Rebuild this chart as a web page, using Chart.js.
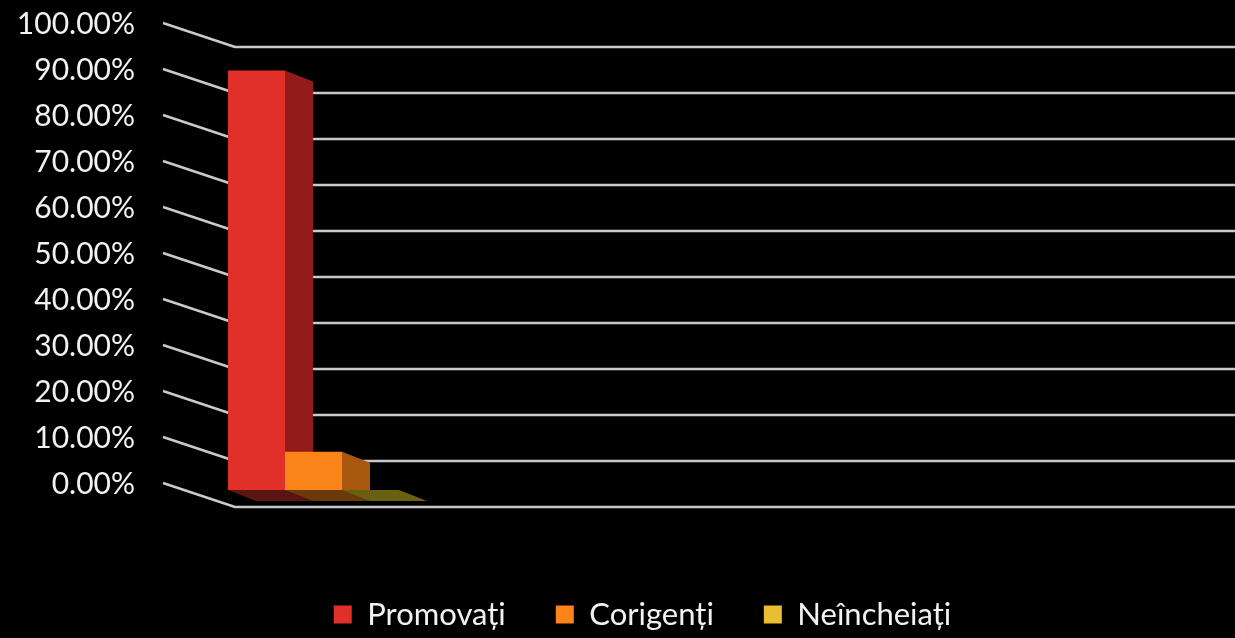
<!DOCTYPE html>
<html>
<head>
<meta charset="utf-8">
<script src="https://cdn.jsdelivr.net/npm/chart.js@4.4.1/dist/chart.umd.min.js"></script>
<style>
  html, body { margin: 0; padding: 0; background: #000; }
  #wrap { width: 1235px; height: 638px; position: relative; background: #000; }
</style>
</head>
<body>
<div id="wrap"><canvas id="c"></canvas></div>
<script>
// ---- data ----
const categories = ['Total'];
const seriesNames = ['Promovați', 'Corigenți', 'Neîncheiați'];
const promovati = [91.2];
const corigenti = [8.3];
const neincheiati = [0];
const yTickValues = [0, 10, 20, 30, 40, 50, 60, 70, 80, 90, 100];

// ---- styles ----
const frontColors = ['#e1302a', '#fb8419', '#e9be32'];
const sideColors = ['#931c1a', '#a9590f', '#8a7418'];
const bottomColors = ['#5a1512', '#6a3a0c', '#6a6012'];
const DEPTH_X = 28, DEPTH_Y = 11;           // bar depth
const WALL_BACK_DX = 45, WALL_BACK_DY = 17; // front plane -> back wall
const SIDE_DX = 72, SIDE_DY = 24;           // left wall depth
const GRID_COLOR = '#c9c9c9';

const threeD = {
  id: 'threeD',
  beforeDatasetsDraw(chart) {
    const ctx = chart.ctx;
    const y = chart.scales.y;
    const backLeft = chart.chartArea.left + WALL_BACK_DX;
    ctx.save();
    // walls / gridlines
    ctx.strokeStyle = GRID_COLOR;
    ctx.lineWidth = 2.5;
    ctx.lineJoin = 'round';
    y.ticks.forEach(t => {
      const by = y.getPixelForValue(t.value) + WALL_BACK_DY;
      ctx.beginPath();
      ctx.moveTo(backLeft - SIDE_DX, by - SIDE_DY);
      ctx.lineTo(backLeft, by);
      ctx.lineTo(chart.width, by);
      ctx.stroke();
    });
    // bottom + side faces of every bar (fronts are drawn afterwards by Chart.js)
    chart.data.datasets.forEach((ds, i) => {
      const meta = chart.getDatasetMeta(i);
      meta.data.forEach(bar => {
        const p = bar.getProps(['x', 'y', 'base', 'width'], true);
        const l = p.x - p.width / 2, r = p.x + p.width / 2;
        const top = Math.min(p.y, p.base), base = Math.max(p.y, p.base);
        ctx.fillStyle = bottomColors[i];
        ctx.beginPath();
        ctx.moveTo(l, base);
        ctx.lineTo(r, base);
        ctx.lineTo(r + DEPTH_X, base + DEPTH_Y);
        ctx.lineTo(l + DEPTH_X, base + DEPTH_Y);
        ctx.closePath();
        ctx.fill();
        if (base - top > 0.5) {
          ctx.fillStyle = sideColors[i];
          ctx.beginPath();
          ctx.moveTo(r, top);
          ctx.lineTo(r + DEPTH_X, top + DEPTH_Y);
          ctx.lineTo(r + DEPTH_X, base + DEPTH_Y);
          ctx.lineTo(r, base);
          ctx.closePath();
          ctx.fill();
        }
      });
    });
    ctx.restore();
  }
};

const seriesData = [promovati, corigenti, neincheiati];

new Chart(document.getElementById('c'), {
  type: 'bar',
  data: {
    labels: categories,
    datasets: seriesNames.map((name, i) => ({
      label: name,
      data: seriesData[i],
      backgroundColor: frontColors[i],
      borderWidth: 0,
      barPercentage: 1,
      categoryPercentage: 0.6923
    }))
  },
  options: {
    responsive: true,
    maintainAspectRatio: false,
    animation: false,
    layout: { padding: { top: 30, right: -50, left: 0, bottom: 0 } },
    scales: {
      x: {
        display: true,
        afterFit(scale) { scale.height = 59; },
        grid: { display: false, drawTicks: false },
        border: { display: false },
        ticks: { display: false }
      },
      y: {
        min: 0, max: 100,
        afterFit(scale) {
          scale.width = 190;
          scale.paddingTop = 0;
          scale.paddingBottom = 0;
        },
        afterBuildTicks(scale) { scale.ticks = yTickValues.map(v => ({ value: v })); },
        grid: { display: false, drawTicks: false },
        border: { display: false },
        ticks: {
          padding: 55,
          labelOffset: -6,
          color: '#f2f2f2',
          font: { family: 'Lato', size: 30 },
          callback: v => v.toFixed(2) + '%'
        }
      },
      // empty spacer on the right: keeps the plot area narrow, as in the original
      spacer: {
        type: 'linear',
        position: 'right',
        display: true,
        afterFit(scale) { scale.width = 848; },
        grid: { display: false, drawTicks: false },
        border: { display: false },
        ticks: { display: false }
      }
    },
    plugins: {
      tooltip: { enabled: false },
      legend: {
        position: 'bottom',
        maxHeight: 89,
        labels: {
          color: '#f2f2f2',
          font: { family: 'Lato', size: 31 },
          boxWidth: 18,
          boxHeight: 18,
          padding: 50
        }
      }
    }
  },
  plugins: [threeD]
});
</script>
</body>
</html>
